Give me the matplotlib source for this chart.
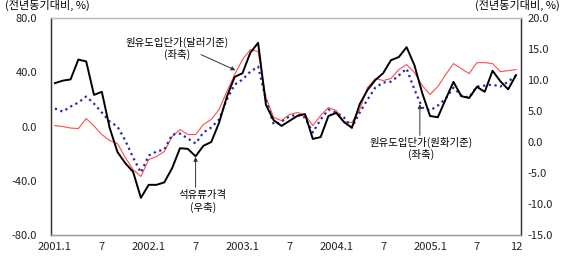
import numpy as np
import matplotlib
matplotlib.use("Agg")
import matplotlib.pyplot as plt

plt.rcParams['font.family'] = ['Noto Sans CJK KR', 'DejaVu Sans']

# months 2001.1 .. 2005.12
months = np.arange(60)
tick_pos    = [0, 6, 12, 18, 24, 30, 36, 42, 48, 54, 59]
tick_labels = ["2001.1", "7", "2002.1", "7", "2003.1", "7",
               "2004.1", "7", "2005.1", "7", "12"]

# 원유도입단가(달러기준), 좌축
crude_usd = [0.7, 0.0, -1.1, -1.5, 5.9, 0.4, -5.9, -10.3, -12.5, -22.8,
             -31.7, -36.8, -24.3, -22.1, -18.4, -7.4, -2.2, -5.9, -5.9, 1.5,
             5.2, 12.5, 25.8, 38.3, 49.4, 56.7, 55.2, 21.4, 6.6, 4.4,
             8.8, 10.3, 8.8, 0.7, 8.1, 14.0, 11.8, 3.7, 2.9, 12.5,
             28.7, 35.4, 33.9, 35.4, 42.0, 45.7, 39.8, 30.2, 23.6, 29.5,
             38.3, 46.4, 42.7, 39.0, 47.1, 47.1, 46.4, 40.5, 41.2, 42.0]

# 원유도입단가(원화기준), 좌축
crude_krw = [13.3, 11.0, 14.7, 17.7, 22.1, 16.9, 10.3, 3.7, 0.0, -10.3,
             -22.8, -33.9, -21.4, -18.4, -16.9, -5.9, -5.2, -8.8, -12.5, -4.4,
             -0.7, 5.2, 19.9, 30.9, 34.6, 40.5, 44.2, 19.9, 1.5, 3.7,
             7.4, 8.8, 6.6, -4.4, 5.2, 12.5, 10.3, 6.6, -0.7, 10.3,
             19.9, 28.7, 32.4, 33.1, 37.6, 42.7, 27.3, 14.0, 11.8, 15.5,
             20.6, 28.7, 22.8, 21.4, 29.5, 30.2, 30.9, 29.5, 33.1, 37.6]

# 석유류가격, 우축
oil_products = [9.5, 9.9, 10.1, 13.3, 13.0, 7.6, 8.1, 2.3, -1.6, -3.4,
                -4.8, -9.0, -6.9, -6.9, -6.5, -4.2, -1.0, -1.1, -2.3, -0.6,
                0.0, 3.1, 7.3, 10.5, 11.1, 14.4, 16.0, 6.0, 3.5, 2.6,
                3.4, 4.2, 4.5, 0.5, 0.8, 4.2, 4.7, 3.2, 2.3, 6.1,
                8.4, 10.0, 11.1, 13.2, 13.7, 15.3, 12.4, 7.9, 4.2, 4.0,
                6.9, 9.7, 7.4, 7.1, 8.9, 8.1, 11.5, 9.8, 8.5, 10.8]

left_ticks  = [-80, -40, 0, 40, 80]
right_ticks = [-15, -10, -5, 0, 5, 10, 15, 20]

fig = plt.figure(figsize=(5.67, 2.65), dpi=100)
ax = fig.add_axes([0.090, 0.113, 0.829, 0.819])
ax2 = ax.twinx()

ax.plot(months, crude_usd, color="#ff4d4d", lw=0.8)
ax.plot(months, crude_krw, color="#2a2aa8", lw=1.6, ls=(0, (1, 1.6)))
ax2.plot(months, oil_products, color="black", lw=1.4)

ax.set_xlim(-0.5, 59.65)
ax.set_ylim(-80, 80)
ax2.set_ylim(-15, 20)

ax.set_xticks(tick_pos)
ax.set_xticklabels(tick_labels)
ax.set_yticks(left_ticks)
ax.set_yticklabels([f"{v:.1f}" for v in left_ticks])
ax2.set_yticks(right_ticks)
ax2.set_yticklabels([f"{v:.1f}" for v in right_ticks])

for a in (ax, ax2):
    a.tick_params(length=0, labelsize=8, colors="#222222")
ax.tick_params(axis="y", pad=10)
ax2.tick_params(axis="y", pad=4.5)
ax.tick_params(axis="x", pad=5)

for a in (ax, ax2):
    a.spines["top"].set_color("#bbbbbb")
    a.spines["bottom"].set_color("#999999")
    a.spines["left"].set_color("#333333")
    a.spines["right"].set_color("#333333")
    for s in a.spines.values():
        s.set_linewidth(0.9)

fig.text(0.009, 0.978, "(전년동기대비, %)", fontsize=8, ha="left", va="center")
fig.text(0.988, 0.978, "(전년동기대비, %)", fontsize=8, ha="right", va="center")

arrow = dict(arrowstyle="-|>", color="#333333", lw=0.7, mutation_scale=6,
             shrinkA=0, shrinkB=0)

ax.text(15.6, 62, "원유도입단가(달러기준)", fontsize=7.5, ha="center", va="center")
ax.text(15.6, 53, "(좌축)", fontsize=7.5, ha="center", va="center")
ax.annotate("", xy=(23.1, 41.5), xytext=(18.7, 53), arrowprops=arrow)

ax2.text(18.9, -8.5, "석유류가격", fontsize=7.5, ha="center", va="center")
ax2.text(18.9, -10.6, "(우축)", fontsize=7.5, ha="center", va="center")
ax2.annotate("", xy=(18.0, -2.4), xytext=(18.0, -7.3), arrowprops=arrow)

ax.text(46.8, -11.5, "원유도입단가(원화기준)", fontsize=7.5, ha="center", va="center")
ax.text(46.8, -20.5, "(좌축)", fontsize=7.5, ha="center", va="center")
ax.annotate("", xy=(46.7, 16.5), xytext=(46.7, -6.5), arrowprops=arrow)

fig.savefig("out.png", dpi=100)
plt.close(fig)
